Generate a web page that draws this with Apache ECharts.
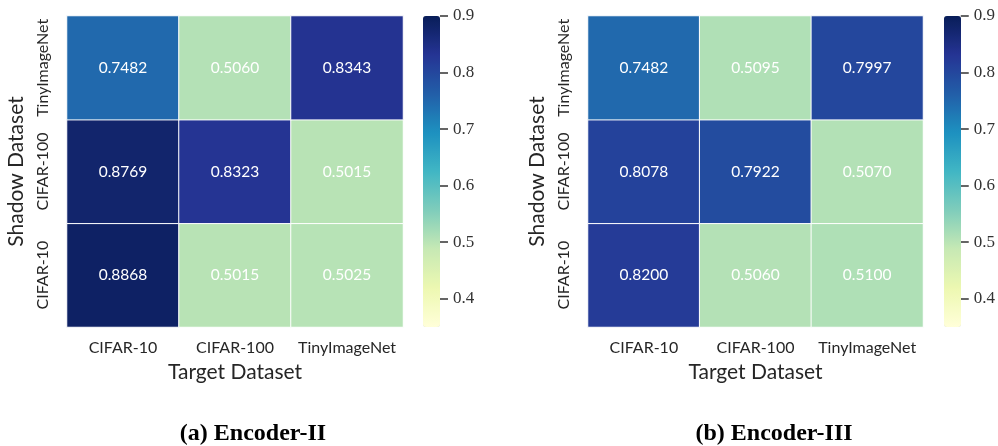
<!DOCTYPE html>
<html><head><meta charset="utf-8">
<script src="https://cdn.jsdelivr.net/npm/echarts@6/dist/echarts.min.js"></script>
<style>html,body{margin:0;padding:0;background:#fff}#c{width:998px;height:446px}</style>
</head><body><div id="c"></div>
<script>
const targetCats = ['CIFAR-10', 'CIFAR-100', 'TinyImageNet'];
const shadowCats = ['CIFAR-10', 'CIFAR-100', 'TinyImageNet']; // bottom to top
// values per shadow dataset row, columns follow targetCats
const encII_cifar10 = [0.8868, 0.5015, 0.5025];
const encII_cifar100 = [0.8769, 0.8323, 0.5015];
const encII_tiny = [0.7482, 0.5060, 0.8343];
const encIII_cifar10 = [0.8200, 0.5060, 0.5100];
const encIII_cifar100 = [0.8078, 0.7922, 0.5070];
const encIII_tiny = [0.7482, 0.5095, 0.7997];
const cbarTickMin = 0.4, cbarTickStep = 0.1;
const vmin = 0.35, vmax = 0.9;
const titles = ['(a) Encoder-II', '(b) Encoder-III'];

const ylgnbu = ['#ffffd9','#edf8b1','#c7e9b4','#7fcdbb','#41b6c4','#1d91c0','#225ea8','#253494','#081d58'];

function toCells(rows) {
  const out = [];
  rows.forEach((row, yi) => row.forEach((v, xi) => out.push([xi, yi, v])));
  return out;
}
const dataII = toCells([encII_cifar10, encII_cifar100, encII_tiny]);
const dataIII = toCells([encIII_cifar10, encIII_cifar100, encIII_tiny]);

const SANS = 'Lato';
const SERIF = 'Liberation Serif';
const CB_TOP = 16, CB_H = 311;
const tickH = CB_H * (vmax - cbarTickMin) / (vmax - vmin);
const grids = [
  {left: 67, top: 16, width: 336, height: 311},
  {left: 588, top: 16, width: 335, height: 311},
  {left: 423, top: CB_TOP, width: 17, height: tickH},
  {left: 944, top: CB_TOP, width: 17, height: tickH}
];

function heatX(gi) {
  return {type: 'category', gridIndex: gi, data: targetCats,
    axisLine: {show: false}, axisTick: {show: false}, splitArea: {show: false},
    axisLabel: {interval: 0, fontFamily: SANS, fontSize: 16, color: '#262626', margin: 13},
    name: 'Target Dataset', nameLocation: 'middle', nameGap: 35,
    nameTextStyle: {fontFamily: SANS, fontSize: 21, color: '#262626'}};
}
function heatY(gi) {
  return {type: 'category', gridIndex: gi, data: shadowCats,
    axisLine: {show: false}, axisTick: {show: false}, splitArea: {show: false},
    axisLabel: {interval: 0, fontFamily: SANS, fontSize: 16, color: '#262626', rotate: 90, margin: 16},
    name: 'Shadow Dataset', nameLocation: 'middle', nameGap: 40,
    nameTextStyle: {fontFamily: SANS, fontSize: 21, color: '#262626'}};
}
function cbX(gi) {
  return {type: 'value', gridIndex: gi, show: false, min: 0, max: 1};
}
function cbY(gi) {
  return {type: 'value', gridIndex: gi, position: 'right', min: cbarTickMin, max: vmax, interval: cbarTickStep,
    axisLine: {show: true, onZero: false, lineStyle: {color: 'rgba(0,0,0,0)'}}, splitLine: {show: false},
    axisTick: {show: true, length: 8, lineStyle: {color: '#333', width: 1.5}},
    axisLabel: {fontFamily: SERIF, fontSize: 17, color: '#333', margin: 13,
      formatter: v => v.toFixed(1)}};
}
function heatSeries(xi, data) {
  return {type: 'heatmap', xAxisIndex: xi, yAxisIndex: xi, data: data,
    itemStyle: {borderColor: '#fff', borderWidth: 1},
    label: {show: true, color: '#fff', fontFamily: SANS, fontSize: 15.5,
      formatter: p => p.value[2].toFixed(4)},
    emphasis: {disabled: true}};
}

const option = {
  backgroundColor: '#fff',
  animation: false,
  title: [
    {text: titles[0], left: 248, top: 417, textAlign: 'center',
      textStyle: {fontFamily: SERIF, fontWeight: 'bold', fontSize: 24, color: '#000'}},
    {text: titles[1], left: 769, top: 417, textAlign: 'center',
      textStyle: {fontFamily: SERIF, fontWeight: 'bold', fontSize: 24, color: '#000'}}
  ],
  grid: grids,
  xAxis: [heatX(0), heatX(1), cbX(2), cbX(3)],
  yAxis: [heatY(0), heatY(1), cbY(2), cbY(3)],
  visualMap: [
    {type: 'continuous', min: vmin, max: vmax, seriesIndex: 0, calculable: false,
      left: 423, top: CB_TOP, itemWidth: 17, itemHeight: CB_H, padding: 0,
      inRange: {color: ylgnbu}, textStyle: {color: 'transparent'}},
    {type: 'continuous', min: vmin, max: vmax, seriesIndex: 1, calculable: false,
      left: 944, top: CB_TOP, itemWidth: 17, itemHeight: CB_H, padding: 0,
      inRange: {color: ylgnbu}, textStyle: {color: 'transparent'}}
  ],
  series: [
    heatSeries(0, dataII),
    heatSeries(1, dataIII),
    {type: 'scatter', xAxisIndex: 2, yAxisIndex: 2, data: []},
    {type: 'scatter', xAxisIndex: 3, yAxisIndex: 3, data: []}
  ]
};
const chart = echarts.init(document.getElementById('c'), null, {renderer: 'canvas'});
chart.setOption(option);
</script></body></html>
